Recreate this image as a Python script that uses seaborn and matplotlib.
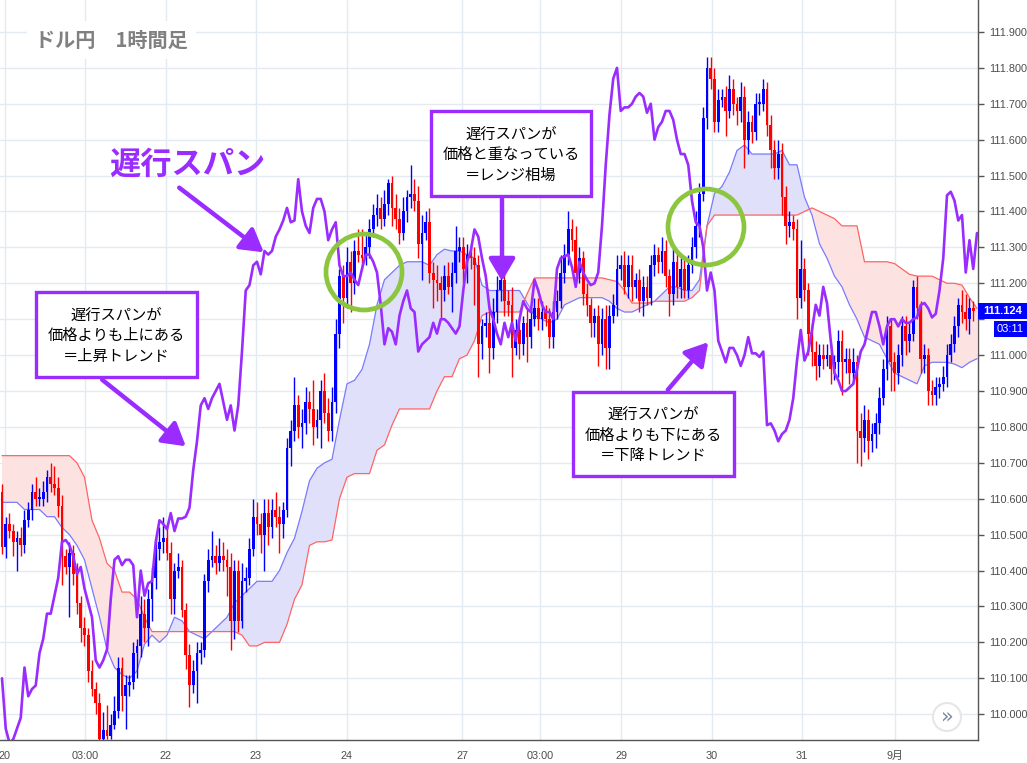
import numpy as np
import pandas as pd
import seaborn as sns
import matplotlib
matplotlib.use("Agg")
import matplotlib.pyplot as plt
from matplotlib.patches import Circle, Rectangle, FancyArrowPatch

# USD/JPY hourly bars (one close per bar, open = previous close)
first_open = 110.62
closes = [
    110.465, 110.53, 110.51, 110.48, 110.49, 110.47, 110.54, 110.57, 110.62, 110.60,
    110.60, 110.62, 110.66, 110.64, 110.63, 110.58, 110.44, 110.41, 110.45, 110.39,
    110.31, 110.24, 110.22, 110.12, 110.07, 110.03, 109.93, 109.955, 109.94, 109.97,
    110.01, 110.13, 110.05, 110.08, 110.09, 110.17, 110.19, 110.28, 110.24, 110.32,
    110.38, 110.46, 110.48, 110.49, 110.45, 110.32, 110.40, 110.41, 110.29, 110.165,
    110.08, 110.12, 110.17, 110.18, 110.37, 110.43, 110.44, 110.42, 110.44, 110.43,
    110.41, 110.26, 110.40, 110.26, 110.37, 110.38, 110.46, 110.55, 110.53, 110.50,
    110.56, 110.52, 110.57, 110.55, 110.53, 110.57, 110.74, 110.79, 110.86, 110.80,
    110.81, 110.87, 110.85, 110.80, 110.82, 110.90, 110.84, 110.79, 110.87, 111.06,
    111.22, 111.16, 111.26, 111.20, 111.29, 111.28, 111.27, 111.30, 111.35, 111.39,
    111.41, 111.38, 111.42, 111.48, 111.41, 111.38, 111.34, 111.40, 111.44, 111.45,
    111.43, 111.31, 111.34, 111.37, 111.23, 111.21, 111.20, 111.18, 111.22, 111.19,
    111.23, 111.29, 111.30, 111.24, 111.28, 111.27, 111.25, 111.03, 111.08, 111.09,
    111.02, 111.12, 111.18, 111.21, 111.15, 111.14, 111.02, 111.07, 111.03, 111.09,
    111.05, 111.10, 111.13, 111.10, 111.12, 111.10, 111.05, 111.12, 111.15, 111.23,
    111.28, 111.35, 111.32, 111.23, 111.27, 111.17, 111.14, 111.09, 111.11, 111.03,
    111.10, 111.02, 111.11, 111.14, 111.24, 111.25, 111.19, 111.25, 111.19, 111.21,
    111.15, 111.19, 111.16, 111.25, 111.28, 111.26, 111.29, 111.22, 111.17, 111.26,
    111.19, 111.24, 111.18, 111.25, 111.30, 111.36, 111.45, 111.66, 111.80, 111.77,
    111.65, 111.71, 111.72, 111.68, 111.74, 111.70, 111.68, 111.72, 111.60, 111.65,
    111.62, 111.70, 111.70, 111.74, 111.64, 111.57, 111.52, 111.56, 111.44, 111.36,
    111.37, 111.35, 111.16, 111.24, 111.18, 111.06, 111.01, 110.97, 111.00, 110.99,
    111.00, 110.96, 110.98, 111.04, 110.98, 110.99, 110.95, 110.98, 110.79, 110.77,
    110.82, 110.76, 110.78, 110.81, 110.88, 110.96, 111.08, 110.98, 110.95, 111.00,
    111.08, 111.04, 111.06, 111.19, 111.13, 110.99, 111.00, 110.90, 110.89, 110.91,
    110.92, 110.94, 111.00, 111.03, 111.08, 111.14, 111.12, 111.10, 111.13, 111.124,
]
# wick lengths above / below the body, in 0.01 yen
wick_up = [
    2, 2, 3, 2, 2, 3, 3, 2, 2, 4, 3, 3, 2, 4, 5, 3, 3, 2, 3, 2,
    3, 2, 3, 2, 3, 2, 3, 5, 7, 3, 4, 3, 3, 3, 2, 3, 2, 5, 4, 3,
    3, 3, 4, 6, 3, 3, 2, 4, 2, 2, 3, 3, 3, 2, 2, 3, 7, 3, 5, 4,
    3, 4, 3, 3, 5, 3, 3, 5, 4, 3, 4, 4, 3, 5, 3, 2, 3, 3, 8, 3,
    4, 4, 3, 8, 3, 3, 5, 4, 4, 4, 2, 3, 4, 3, 3, 6, 7, 4, 3, 3,
    4, 3, 4, 1, 2, 4, 3, 4, 2, 8, 4, 4, 5, 3, 4, 3, 4, 2, 3, 4,
    3, 7, 3, 3, 3, 3, 3, 3, 2, 3, 5, 4, 4, 3, 2, 3, 5, 3, 3, 2,
    4, 3, 3, 3, 3, 2, 3, 3, 3, 5, 3, 5, 3, 4, 3, 2, 3, 2, 2, 3,
    3, 4, 3, 3, 4, 3, 4, 3, 3, 2, 3, 3, 3, 3, 3, 2, 4, 3, 2, 5,
    3, 3, 3, 3, 3, 4, 3, 3, 3, 3, 3, 3, 2, 3, 4, 3, 2, 4, 3, 3,
    2, 3, 3, 3, 2, 3, 3, 4, 3, 3, 3, 2, 3, 8, 3, 2, 3, 3, 3, 3,
    3, 3, 2, 3, 3, 3, 3, 4, 2, 5, 4, 3, 3, 3, 3, 3, 3, 2, 3, 3,
    3, 3, 3, 2, 3, 2, 3, 2, 3, 3, 2, 3, 3, 3, 3, 2, 4, 5, 3, 2,
]
wick_dn = [
    2, 3, 2, 4, 8, 3, 2, 2, 3, 2, 2, 2, 3, 2, 2, 3, 8, 2, 14, 3,
    3, 4, 3, 3, 2, 3, 1, 1, 1, 1, 1, 2, 4, 9, 3, 2, 7, 3, 4, 5,
    6, 3, 3, 3, 2, 4, 4, 2, 2, 4, 6, 2, 9, 3, 2, 3, 2, 3, 2, 3,
    8, 8, 5, 3, 2, 3, 2, 2, 3, 5, 10, 5, 3, 3, 8, 4, 2, 5, 3, 3,
    6, 3, 4, 5, 3, 8, 3, 3, 3, 3, 4, 7, 3, 8, 3, 2, 3, 2, 3, 2,
    3, 3, 2, 3, 5, 3, 3, 2, 3, 3, 3, 4, 10, 2, 3, 8, 5, 8, 3, 2,
    7, 3, 3, 4, 4, 3, 11, 9, 4, 3, 7, 3, 3, 3, 4, 3, 8, 2, 4, 3,
    7, 3, 2, 3, 3, 2, 3, 3, 2, 2, 3, 3, 3, 2, 3, 3, 3, 4, 4, 6,
    3, 6, 6, 2, 3, 3, 2, 3, 4, 3, 3, 4, 2, 2, 3, 3, 3, 3, 6, 3,
    3, 3, 2, 2, 2, 3, 3, 2, 3, 3, 3, 3, 2, 7, 2, 3, 4, 3, 8, 4,
    3, 2, 3, 2, 3, 5, 3, 3, 5, 5, 3, 3, 6, 3, 3, 6, 4, 4, 3, 3,
    2, 4, 3, 4, 9, 3, 3, 3, 9, 8, 4, 5, 3, 4, 3, 2, 3, 8, 5, 3,
    3, 4, 3, 2, 3, 4, 4, 4, 3, 3, 3, 2, 3, 2, 2, 3, 3, 3, 4, 3,
]
# Ichimoku cloud, one value every second bar
span_a = [
    110.59, 110.59, 110.59, 110.57, 110.57, 110.57, 110.55, 110.55, 110.52, 110.50,
    110.47, 110.43, 110.35, 110.27, 110.18, 110.13, 110.11, 110.10, 110.12, 110.195,
    110.22, 110.20, 110.22, 110.27, 110.26, 110.23, 110.22, 110.21, 110.23, 110.25,
    110.27, 110.31, 110.33, 110.35, 110.37, 110.37, 110.37, 110.40, 110.45, 110.49,
    110.565, 110.65, 110.685, 110.70, 110.71, 110.82, 110.92, 110.93, 110.96, 111.03,
    111.14, 111.21, 111.23, 111.25, 111.26, 111.26, 111.26, 111.25, 111.28, 111.295,
    111.29, 111.29, 111.28, 111.27, 111.195, 111.18, 111.18, 111.18, 111.18, 111.18,
    111.145, 111.11, 111.10, 111.09, 111.10, 111.14, 111.15, 111.16, 111.16, 111.16,
    111.16, 111.15, 111.13, 111.12, 111.12, 111.13, 111.14, 111.15, 111.17, 111.19,
    111.19, 111.18, 111.18, 111.21, 111.36, 111.45, 111.47, 111.51, 111.57, 111.585,
    111.56, 111.56, 111.56, 111.56, 111.57, 111.53, 111.53, 111.44, 111.39, 111.31,
    111.27, 111.22, 111.19, 111.14, 111.10, 111.05, 111.04, 111.03, 110.99, 110.95,
    110.94, 110.93, 110.92, 110.97, 110.98, 110.98, 110.98, 110.975, 110.965, 110.98,
    110.99,
]
span_b = [
    110.72, 110.72, 110.72, 110.72, 110.72, 110.72, 110.72, 110.72, 110.72, 110.72,
    110.70, 110.66, 110.54, 110.49, 110.42, 110.40, 110.34, 110.34, 110.32, 110.27,
    110.23, 110.23, 110.23, 110.23, 110.23, 110.23, 110.23, 110.23, 110.23, 110.23,
    110.23, 110.23, 110.22, 110.19, 110.19, 110.20, 110.20, 110.20, 110.25, 110.32,
    110.36, 110.47, 110.48, 110.48, 110.485, 110.60, 110.66, 110.67, 110.67, 110.67,
    110.735, 110.75, 110.805, 110.85, 110.85, 110.85, 110.85, 110.85, 110.90, 110.94,
    110.94, 110.99, 111.00, 111.04, 111.11, 111.12, 111.12, 111.12, 111.12, 111.12,
    111.17, 111.215, 111.215, 111.215, 111.215, 111.215, 111.215, 111.215, 111.215, 111.215,
    111.215, 111.21, 111.205, 111.18, 111.145, 111.145, 111.145, 111.15, 111.15, 111.15,
    111.15, 111.15, 111.16, 111.18, 111.36, 111.39, 111.39, 111.39, 111.39, 111.39,
    111.39, 111.39, 111.39, 111.39, 111.39, 111.39, 111.39, 111.40, 111.41, 111.40,
    111.39, 111.38, 111.36, 111.36, 111.36, 111.26, 111.26, 111.26, 111.26, 111.255,
    111.24, 111.225, 111.22, 111.22, 111.22, 111.21, 111.20, 111.20, 111.195, 111.16,
    111.13,
]
# lagging span (chikou), one value per bar
chikou = [
    110.10, 109.96, 109.92, 109.93, 109.96, 109.99, 110.13, 110.05, 110.07, 110.08,
    110.17, 110.21, 110.28, 110.28, 110.33, 110.38, 110.48, 110.485, 110.47, 110.44,
    110.39, 110.41, 110.35, 110.31, 110.27, 110.15, 110.13, 110.15, 110.18, 110.32,
    110.43, 110.44, 110.415, 110.43, 110.43, 110.415, 110.27, 110.40, 110.33, 110.365,
    110.37, 110.48, 110.54, 110.53, 110.515, 110.56, 110.51, 110.545, 110.545, 110.55,
    110.575, 110.68, 110.76, 110.86, 110.88, 110.85, 110.88, 110.90, 110.92, 110.87,
    110.82, 110.86, 110.79, 110.86, 111.01, 111.18, 111.195, 111.25, 111.26, 111.225,
    111.29, 111.28, 111.29, 111.33, 111.35, 111.375, 111.41, 111.37, 111.375, 111.49,
    111.40, 111.36, 111.34, 111.41, 111.435, 111.435, 111.40, 111.32, 111.35, 111.37,
    111.25, 111.22, 111.22, 111.23, 111.21, 111.195, 111.24, 111.28, 111.28, 111.26,
    111.23, 111.14, 111.03, 111.075, 111.065, 111.03, 111.11, 111.15, 111.18, 111.13,
    111.12, 111.01, 111.03, 111.04, 111.05, 111.09, 111.06, 111.10, 111.10, 111.09,
    111.075, 111.06, 111.08, 111.18, 111.26, 111.29, 111.35, 111.33, 111.27, 111.22,
    111.13, 111.10, 111.06, 111.03, 111.09, 111.05, 111.09, 111.04, 111.10, 111.15,
    111.13, 111.12, 111.21, 111.18, 111.14, 111.12, 111.12, 111.10, 111.24, 111.27,
    111.275, 111.28, 111.245, 111.19, 111.26, 111.23, 111.21, 111.195, 111.20, 111.23,
    111.36, 111.53, 111.67, 111.77, 111.80, 111.68, 111.69, 111.69, 111.70, 111.72,
    111.73, 111.72, 111.675, 111.70, 111.60, 111.635, 111.65, 111.68, 111.68, 111.655,
    111.60, 111.56, 111.56, 111.53, 111.43, 111.37, 111.36, 111.30, 111.18, 111.23,
    111.18, 111.04, 111.01, 110.98, 111.02, 111.02, 111.00, 110.97, 111.00, 111.05,
    111.005, 111.005, 110.995, 111.01, 110.805, 110.81, 110.79, 110.76, 110.78, 110.79,
    110.82, 110.88, 110.985, 111.07, 110.985, 111.01, 111.07, 111.14, 111.11, 111.19,
    111.145, 111.04, 110.95, 110.93, 110.90, 110.90, 110.91, 110.92, 110.96, 111.01,
    111.03, 111.075, 111.12, 111.12, 111.08, 111.03, 111.08, 111.10, 111.10, 111.08,
    111.10, 111.09, 111.09, 111.10, 111.105, 111.14, 111.145, 111.13, 111.105, 111.115,
    111.18, 111.27, 111.445, 111.455, 111.43, 111.375, 111.39, 111.23, 111.32, 111.24,
    111.34,
]
x_tick_pos = [0.8, 22.1, 43.7, 67.7, 92.0, 122.7, 143.5, 165.1, 189.3, 213.3, 238.1]
x_tick_labels = ["20", "03:00", "22", "23", "24", "27", "03:00", "29", "30", "31", "9月"]
y_ticks = np.round(np.arange(110.0, 111.95, 0.1), 1)
last_price = "111.124"
countdown = "03:11"

PURPLE = "#9a2cff"
GREEN = "#8cc63f"

sns.set_theme(style="white")
plt.rcParams['font.family'] = ['Liberation Sans', 'Noto Sans CJK JP', 'DejaVu Sans']

fig = plt.figure(figsize=(10.27, 7.63), dpi=100)
ax = fig.add_axes([0, 0.0301, 0.9523, 0.9699])
H = 7.63
tr = fig.dpi_scale_trans


def px(x, y):
    return (x / 100, H - y / 100)


# cloud
cloud = pd.DataFrame({"bar": np.arange(len(span_a)) * 2, "span_a": span_a, "span_b": span_b})
ax.fill_between(cloud.bar, cloud.span_a, cloud.span_b, where=cloud.span_a >= cloud.span_b,
                interpolate=True, color="#e0e0fb", linewidth=0, zorder=1)
ax.fill_between(cloud.bar, cloud.span_a, cloud.span_b, where=cloud.span_a < cloud.span_b,
                interpolate=True, color="#fde2e2", linewidth=0, zorder=1)
sns.lineplot(data=cloud, x="bar", y="span_a", ax=ax, color="#7a7aff", linewidth=0.9, zorder=2)
sns.lineplot(data=cloud, x="bar", y="span_b", ax=ax, color="#ff6464", linewidth=0.9, zorder=2)

# candles
c = np.array(closes)
o = np.r_[first_open, c[:-1]]
idx = np.arange(len(c))
lo_body = np.minimum(o, c)
hi_body = np.maximum(o, c)
highs = hi_body + np.array(wick_up) / 100
lows = lo_body - np.array(wick_dn) / 100
cols = np.where(c >= o, "#0000ff", "#ff0000")
ax.vlines(idx, lows, highs, colors=cols, linewidth=1, zorder=3)
ax.bar(idx, np.maximum(hi_body - lo_body, 0.004), bottom=lo_body, width=0.76,
       color=cols, linewidth=0, zorder=3)

# lagging span
lag = pd.DataFrame({"bar": np.arange(len(chikou)), "chikou": chikou})
sns.lineplot(data=lag, x="bar", y="chikou", ax=ax, color=PURPLE, linewidth=1.9, zorder=4)

ax.set_xlim(-0.53, 260.27)
ax.set_ylim(109.928, 111.989)
ax.set_xlabel("")
ax.set_ylabel("")
ax.yaxis.tick_right()
ax.set_yticks(y_ticks)
# the 111.100 label sits behind the last-price tag, as on the reference
ax.set_yticklabels(["" if abs(v - 111.1) < 1e-6 else f"{v:.3f}" for v in y_ticks])
ax.set_xticks(x_tick_pos)
ax.set_xticklabels(x_tick_labels)
ax.tick_params(axis="both", labelsize=7.8, colors="#555555", length=4, width=1,
               direction="out", pad=4)
ax.tick_params(axis="both", labelcolor="#4d4d4d")
ax.grid(True, color="#e4eaf1", linewidth=1)
ax.set_axisbelow(True)
for s in ["left", "top"]:
    ax.spines[s].set_visible(False)
for s in ["right", "bottom"]:
    ax.spines[s].set_color("#555555")
    ax.spines[s].set_linewidth(1)

# title
fig.text(*px(35, 40), "ドル円\u30001時間足", transform=tr, fontsize=14.5, fontweight="bold",
         color="#808080", va="center", ha="left", family=["Noto Sans CJK JP"],
         bbox=dict(facecolor="white", edgecolor="none", pad=6))

# big label and arrows
fig.text(*px(109, 165), "遅行スパン", transform=tr, fontsize=22.5, fontweight="bold",
         color=PURPLE, va="center", ha="left", family=["Noto Sans CJK JP"])


def arrow(p0, p1):
    fig.add_artist(FancyArrowPatch(px(*p0), px(*p1), transform=tr,
                                   arrowstyle="-|>,head_length=0.85,head_width=0.5",
                                   mutation_scale=16, lw=3.2, color=PURPLE, zorder=6))


arrow((177, 186), (266, 254))
arrow((100, 378), (188, 448))
arrow((502, 196), (502, 284))
arrow((666, 392), (710, 340))


def note(x0, y0, x1, y1, text):
    w, h = (x1 - x0) / 100, (y1 - y0) / 100
    fig.add_artist(Rectangle(px(x0, y1), w, h, transform=tr, facecolor="white",
                             edgecolor=PURPLE, lw=2.4, zorder=7))
    fig.text(*px((x0 + x1) / 2, (y0 + y1) / 2 + 1), text, transform=tr, fontsize=11,
             ha="center", va="center", linespacing=1.28, color="black",
             family=["Noto Sans CJK JP"], zorder=8)


note(36, 292, 197, 377, "遅行スパンが\n価格よりも上にある\n＝上昇トレンド")
note(431, 111, 591, 196, "遅行スパンが\n価格と重なっている\n＝レンジ相場")
note(573, 392, 734, 476, "遅行スパンが\n価格よりも下にある\n＝下降トレンド")

# green circles
for cx, cy in [(364, 272), (706, 227)]:
    fig.add_artist(Circle(px(cx, cy), 0.38, transform=tr, fill=False,
                          edgecolor=GREEN, lw=3.4, zorder=5))

# last price labels
fig.add_artist(Rectangle(px(978, 319), 0.49, 0.16, transform=tr, facecolor="#0000ff",
                         edgecolor="none", zorder=9))
fig.text(*px(1003, 311), last_price, transform=tr, fontsize=8, fontweight="bold",
         color="white", ha="center", va="center", zorder=10)
fig.add_artist(Rectangle(px(994, 337), 0.33, 0.165, transform=tr, facecolor="#0000ff",
                         edgecolor="none", zorder=9))
fig.text(*px(1010, 329.5), countdown, transform=tr, fontsize=8,
         color="white", ha="center", va="center", zorder=10)

# scroll button
fig.add_artist(Circle(px(947, 717), 0.14, transform=tr, facecolor="white",
                      edgecolor="#e6e6e6", lw=1.5, zorder=9))
fig.text(*px(947, 716), "»", transform=tr, fontsize=15, color="#7b8ca3",
         ha="center", va="center", zorder=10, family=["DejaVu Sans"])

fig.savefig("out.png", dpi=100)
